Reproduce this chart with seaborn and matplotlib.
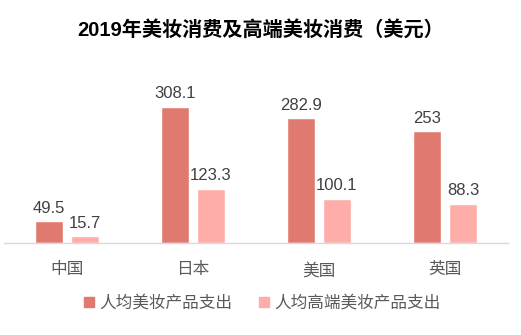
import matplotlib
matplotlib.use("Agg")
import matplotlib.pyplot as plt
import seaborn as sns
import pandas as pd
from matplotlib.lines import Line2D

countries = ["中国", "日本", "美国", "英国"]
series_names = ["人均美妆产品支出", "人均高端美妆产品支出"]
beauty_spend = [49.5, 308.1, 282.9, 253]
premium_spend = [15.7, 123.3, 100.1, 88.3]
colors = ["#E07A70", "#FFADA8"]

sns.set_theme(style="white")
plt.rcParams["font.family"] = ["Liberation Sans", "Noto Sans CJK SC", "DejaVu Sans"]

df = pd.DataFrame({
    "country": countries * 2,
    "series": [series_names[0]] * 4 + [series_names[1]] * 4,
    "value": beauty_spend + premium_spend,
})

fig = plt.figure(figsize=(5.21, 3.35), dpi=100)
ax = fig.add_axes([4 / 521, 1 - 243 / 335, 504 / 521, 154.5 / 335])

sns.barplot(data=df, x="country", y="value", hue="series", order=countries,
            hue_order=series_names, palette=colors, width=0.571, gap=0.222,
            saturation=1, ax=ax, legend=False)

for cont in ax.containers:
    ax.bar_label(cont, labels=[f"{v:g}" for v in cont.datavalues],
                 padding=4, fontsize=12, color="#404040")

ax.set_xlim(-0.5, 3.5)
ax.set_ylim(0, 350)
ax.set_xlabel("")
ax.set_ylabel("")
ax.set_yticks([])
for s in ["top", "right", "left"]:
    ax.spines[s].set_visible(False)
ax.spines["bottom"].set_color("#D9D9D9")
ax.spines["bottom"].set_linewidth(1)
ax.tick_params(axis="x", length=0, pad=14, labelsize=12, labelcolor="#595959")

fig.text(0.5, 1 - 30 / 335, "2019年美妆消费及高端美妆消费（美元）", ha="center",
         va="center", fontsize=14.5, fontweight="bold", color="black")

handles = [Line2D([], [], marker="s", linestyle="", markersize=7,
                  markerfacecolor=c, markeredgecolor=c) for c in colors]
fig.legend(handles, series_names, loc="center", bbox_to_anchor=(0.5, 1 - 303 / 335),
           ncol=2, frameon=False, fontsize=12, labelcolor="#595959",
           handletextpad=0.1, columnspacing=1.4, handlelength=1.0)

fig.savefig("out.png", dpi=100, facecolor="white")
